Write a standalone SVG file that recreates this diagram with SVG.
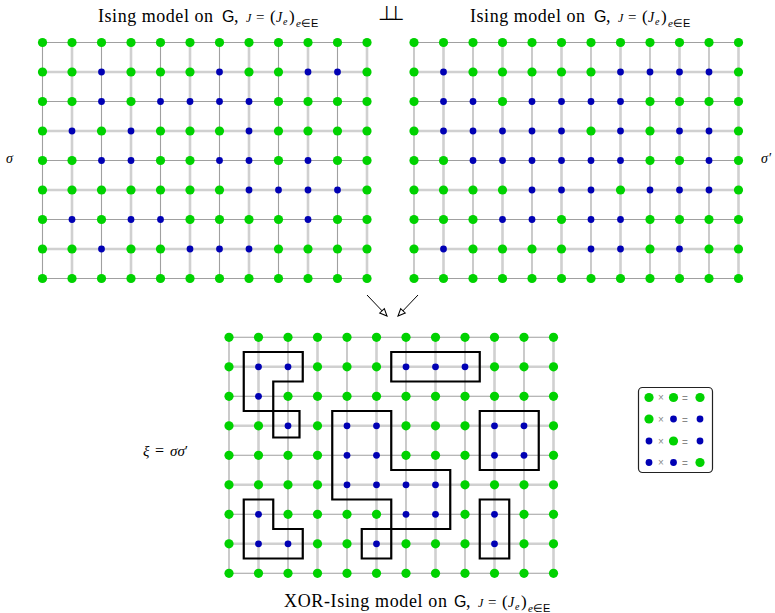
<svg xmlns="http://www.w3.org/2000/svg" xmlns:xlink="http://www.w3.org/1999/xlink" width="775" height="613" viewBox="0 0 775 613">
<style>
.l{stroke:#d0d0d0;stroke-width:2.6;fill:none}
.d{stroke:#a0a0a0;stroke-width:1.1;fill:none}
.c{stroke:#000;stroke-width:2.2;fill:none;stroke-linejoin:miter;stroke-linecap:square}
.s{font-family:"Liberation Serif",serif;fill:#000}
.sf{font-family:"Liberation Sans","DejaVu Sans",sans-serif}
.i{font-style:italic}
.op{font-family:"Liberation Sans",sans-serif;fill:#888;font-size:10px}
.ar{stroke:#000;stroke-width:1;fill:none}
</style>
<defs>
<circle id="G" r="4.6" fill="#00d200"/>
<circle id="B" r="3.4" fill="#0000b4"/>
<g id="lat">
<path class="l" d="M0,29.5H324.5M0,88.5H324.5M0,147.5H324.5M0,206.5H324.5M29.5,0V236M88.5,0V236M147.5,0V236M206.5,0V236M265.5,0V236M324.5,0V236"/>
<path class="d" d="M0,0H324.5M0,59H324.5M0,118H324.5M0,177H324.5M0,236H324.5M0,0V236M59,0V236M118,0V236M177,0V236M236,0V236M295,0V236"/>
</g>
<g id="rg"><use href="#G" x="0"/><use href="#G" x="29.5"/><use href="#G" x="59"/><use href="#G" x="88.5"/><use href="#G" x="118"/><use href="#G" x="147.5"/><use href="#G" x="177"/><use href="#G" x="206.5"/><use href="#G" x="236"/><use href="#G" x="265.5"/><use href="#G" x="295"/><use href="#G" x="324.5"/></g>
<marker id="ah" viewBox="0 0 10 10" refX="9" refY="5" markerWidth="9" markerHeight="9" markerUnits="userSpaceOnUse" orient="auto">
<path d="M1,1.5 L9,5 L1,8.5 Z" fill="#fff" stroke="#000" stroke-width="1.2"/>
</marker>
</defs>
<rect width="775" height="613" fill="#fff"/>

<!-- titles -->
<text class="s" y="22" font-size="18"><tspan x="98" textLength="115">Ising model on</tspan><tspan class="sf" x="222" font-size="16">G</tspan><tspan x="234">,</tspan><tspan class="i" x="246" font-size="12">J</tspan><tspan x="256" font-size="15">=</tspan><tspan x="270" font-size="17">(</tspan><tspan class="i" x="276" font-size="14">J</tspan><tspan class="i" x="283" y="25" font-size="10">e</tspan><tspan x="289" y="22" font-size="17">)</tspan><tspan class="i" x="296" y="27" font-size="11">e</tspan><tspan y="27" font-size="11">∈</tspan><tspan class="sf" y="27" font-size="11">E</tspan></text>
<text class="s" x="378" y="20" font-size="20" letter-spacing="-8">⊥⊥</text>
<text class="s" y="22" font-size="18"><tspan x="470" textLength="115">Ising model on</tspan><tspan class="sf" x="594" font-size="16">G</tspan><tspan x="606">,</tspan><tspan class="i" x="618" font-size="12">J</tspan><tspan x="628" font-size="15">=</tspan><tspan x="642" font-size="17">(</tspan><tspan class="i" x="648" font-size="14">J</tspan><tspan class="i" x="655" y="25" font-size="10">e</tspan><tspan x="661" y="22" font-size="17">)</tspan><tspan class="i" x="668" y="27" font-size="11">e</tspan><tspan y="27" font-size="11">∈</tspan><tspan class="sf" y="27" font-size="11">E</tspan></text>
<text class="s" y="607" font-size="18"><tspan x="284" textLength="163">XOR-Ising model on</tspan><tspan class="sf" x="454" font-size="16">G</tspan><tspan x="466">,</tspan><tspan class="i" x="478" font-size="12">J</tspan><tspan x="488" font-size="15">=</tspan><tspan x="502" font-size="17">(</tspan><tspan class="i" x="508" font-size="14">J</tspan><tspan class="i" x="515" y="610" font-size="10">e</tspan><tspan x="521" y="607" font-size="17">)</tspan><tspan class="i" x="528" y="612" font-size="11">e</tspan><tspan y="612" font-size="11">∈</tspan><tspan class="sf" y="612" font-size="11">E</tspan></text>
<text class="s i" x="6" y="163" font-size="14">σ</text>
<text class="s i" x="761" y="163" font-size="14">σ′</text>
<text class="s" y="456" font-size="15"><tspan class="i" x="143">ξ</tspan><tspan x="155" font-size="16">=</tspan><tspan class="i" x="170">σσ</tspan><tspan>′</tspan></text>

<g id="ising-sigma" transform="translate(42.5,42.5)">
<use href="#lat"/>
<use href="#rg"/>
<g transform="translate(0,29.5)"><use href="#G" x="0"/><use href="#G" x="29.5"/><use href="#B" x="59"/><use href="#G" x="88.5"/><use href="#G" x="118"/><use href="#G" x="147.5"/><use href="#B" x="177"/><use href="#G" x="206.5"/><use href="#G" x="236"/><use href="#B" x="265.5"/><use href="#B" x="295"/><use href="#G" x="324.5"/></g>
<g transform="translate(0,59)"><use href="#G" x="0"/><use href="#G" x="29.5"/><use href="#B" x="59"/><use href="#G" x="88.5"/><use href="#B" x="118"/><use href="#B" x="147.5"/><use href="#B" x="177"/><use href="#B" x="206.5"/><use href="#G" x="236"/><use href="#G" x="265.5"/><use href="#G" x="295"/><use href="#G" x="324.5"/></g>
<g transform="translate(0,88.5)"><use href="#G" x="0"/><use href="#B" x="29.5"/><use href="#G" x="59"/><use href="#B" x="88.5"/><use href="#G" x="118"/><use href="#G" x="147.5"/><use href="#G" x="177"/><use href="#B" x="206.5"/><use href="#G" x="236"/><use href="#G" x="265.5"/><use href="#G" x="295"/><use href="#G" x="324.5"/></g>
<g transform="translate(0,118)"><use href="#G" x="0"/><use href="#G" x="29.5"/><use href="#B" x="59"/><use href="#B" x="88.5"/><use href="#G" x="118"/><use href="#G" x="147.5"/><use href="#B" x="177"/><use href="#B" x="206.5"/><use href="#G" x="236"/><use href="#B" x="265.5"/><use href="#G" x="295"/><use href="#G" x="324.5"/></g>
<g transform="translate(0,147.5)"><use href="#G" x="0"/><use href="#G" x="29.5"/><use href="#G" x="59"/><use href="#G" x="88.5"/><use href="#G" x="118"/><use href="#G" x="147.5"/><use href="#G" x="177"/><use href="#B" x="206.5"/><use href="#B" x="236"/><use href="#B" x="265.5"/><use href="#B" x="295"/><use href="#G" x="324.5"/></g>
<g transform="translate(0,177)"><use href="#G" x="0"/><use href="#B" x="29.5"/><use href="#G" x="59"/><use href="#B" x="88.5"/><use href="#B" x="118"/><use href="#G" x="147.5"/><use href="#G" x="177"/><use href="#G" x="206.5"/><use href="#G" x="236"/><use href="#B" x="265.5"/><use href="#G" x="295"/><use href="#G" x="324.5"/></g>
<g transform="translate(0,206.5)"><use href="#G" x="0"/><use href="#G" x="29.5"/><use href="#B" x="59"/><use href="#G" x="88.5"/><use href="#G" x="118"/><use href="#B" x="147.5"/><use href="#B" x="177"/><use href="#B" x="206.5"/><use href="#G" x="236"/><use href="#G" x="265.5"/><use href="#G" x="295"/><use href="#G" x="324.5"/></g>
<use href="#rg" y="236"/>
</g>

<g id="ising-sigma-prime" transform="translate(414,42.5)">
<use href="#lat"/>
<use href="#rg"/>
<g transform="translate(0,29.5)"><use href="#G" x="0"/><use href="#B" x="29.5"/><use href="#G" x="59"/><use href="#G" x="88.5"/><use href="#G" x="118"/><use href="#G" x="147.5"/><use href="#G" x="177"/><use href="#B" x="206.5"/><use href="#B" x="236"/><use href="#B" x="265.5"/><use href="#B" x="295"/><use href="#G" x="324.5"/></g>
<g transform="translate(0,59)"><use href="#G" x="0"/><use href="#B" x="29.5"/><use href="#B" x="59"/><use href="#G" x="88.5"/><use href="#B" x="118"/><use href="#B" x="147.5"/><use href="#B" x="177"/><use href="#B" x="206.5"/><use href="#G" x="236"/><use href="#G" x="265.5"/><use href="#G" x="295"/><use href="#G" x="324.5"/></g>
<g transform="translate(0,88.5)"><use href="#G" x="0"/><use href="#B" x="29.5"/><use href="#B" x="59"/><use href="#B" x="88.5"/><use href="#B" x="118"/><use href="#B" x="147.5"/><use href="#G" x="177"/><use href="#B" x="206.5"/><use href="#G" x="236"/><use href="#B" x="265.5"/><use href="#B" x="295"/><use href="#G" x="324.5"/></g>
<g transform="translate(0,118)"><use href="#G" x="0"/><use href="#G" x="29.5"/><use href="#B" x="59"/><use href="#B" x="88.5"/><use href="#B" x="118"/><use href="#B" x="147.5"/><use href="#B" x="177"/><use href="#B" x="206.5"/><use href="#G" x="236"/><use href="#G" x="265.5"/><use href="#B" x="295"/><use href="#G" x="324.5"/></g>
<g transform="translate(0,147.5)"><use href="#G" x="0"/><use href="#G" x="29.5"/><use href="#G" x="59"/><use href="#G" x="88.5"/><use href="#B" x="118"/><use href="#B" x="147.5"/><use href="#B" x="177"/><use href="#G" x="206.5"/><use href="#B" x="236"/><use href="#B" x="265.5"/><use href="#B" x="295"/><use href="#G" x="324.5"/></g>
<g transform="translate(0,177)"><use href="#G" x="0"/><use href="#G" x="29.5"/><use href="#G" x="59"/><use href="#B" x="88.5"/><use href="#B" x="118"/><use href="#G" x="147.5"/><use href="#B" x="177"/><use href="#B" x="206.5"/><use href="#G" x="236"/><use href="#G" x="265.5"/><use href="#G" x="295"/><use href="#G" x="324.5"/></g>
<g transform="translate(0,206.5)"><use href="#G" x="0"/><use href="#B" x="29.5"/><use href="#G" x="59"/><use href="#G" x="88.5"/><use href="#G" x="118"/><use href="#G" x="147.5"/><use href="#B" x="177"/><use href="#B" x="206.5"/><use href="#G" x="236"/><use href="#B" x="265.5"/><use href="#G" x="295"/><use href="#G" x="324.5"/></g>
<use href="#rg" y="236"/>
</g>

<g id="xor-ising">
<g transform="translate(229,337.3)">
<use href="#lat"/>
<use href="#rg"/>
<g transform="translate(0,29.5)"><use href="#G" x="0"/><use href="#B" x="29.5"/><use href="#B" x="59"/><use href="#G" x="88.5"/><use href="#G" x="118"/><use href="#G" x="147.5"/><use href="#B" x="177"/><use href="#B" x="206.5"/><use href="#B" x="236"/><use href="#G" x="265.5"/><use href="#G" x="295"/><use href="#G" x="324.5"/></g>
<g transform="translate(0,59)"><use href="#G" x="0"/><use href="#B" x="29.5"/><use href="#G" x="59"/><use href="#G" x="88.5"/><use href="#G" x="118"/><use href="#G" x="147.5"/><use href="#G" x="177"/><use href="#G" x="206.5"/><use href="#G" x="236"/><use href="#G" x="265.5"/><use href="#G" x="295"/><use href="#G" x="324.5"/></g>
<g transform="translate(0,88.5)"><use href="#G" x="0"/><use href="#G" x="29.5"/><use href="#B" x="59"/><use href="#G" x="88.5"/><use href="#B" x="118"/><use href="#B" x="147.5"/><use href="#G" x="177"/><use href="#G" x="206.5"/><use href="#G" x="236"/><use href="#B" x="265.5"/><use href="#B" x="295"/><use href="#G" x="324.5"/></g>
<g transform="translate(0,118)"><use href="#G" x="0"/><use href="#G" x="29.5"/><use href="#G" x="59"/><use href="#G" x="88.5"/><use href="#B" x="118"/><use href="#B" x="147.5"/><use href="#G" x="177"/><use href="#G" x="206.5"/><use href="#G" x="236"/><use href="#B" x="265.5"/><use href="#B" x="295"/><use href="#G" x="324.5"/></g>
<g transform="translate(0,147.5)"><use href="#G" x="0"/><use href="#G" x="29.5"/><use href="#G" x="59"/><use href="#G" x="88.5"/><use href="#B" x="118"/><use href="#B" x="147.5"/><use href="#B" x="177"/><use href="#B" x="206.5"/><use href="#G" x="236"/><use href="#G" x="265.5"/><use href="#G" x="295"/><use href="#G" x="324.5"/></g>
<g transform="translate(0,177)"><use href="#G" x="0"/><use href="#B" x="29.5"/><use href="#G" x="59"/><use href="#G" x="88.5"/><use href="#G" x="118"/><use href="#G" x="147.5"/><use href="#B" x="177"/><use href="#B" x="206.5"/><use href="#G" x="236"/><use href="#B" x="265.5"/><use href="#G" x="295"/><use href="#G" x="324.5"/></g>
<g transform="translate(0,206.5)"><use href="#G" x="0"/><use href="#B" x="29.5"/><use href="#B" x="59"/><use href="#G" x="88.5"/><use href="#G" x="118"/><use href="#B" x="147.5"/><use href="#G" x="177"/><use href="#G" x="206.5"/><use href="#G" x="236"/><use href="#B" x="265.5"/><use href="#G" x="295"/><use href="#G" x="324.5"/></g>
<use href="#rg" y="236"/>
</g>
<path class="c" d="M243.75,352H302.75V381.5H273.25V437.5H299.5V411H243.75Z"/>
<path class="c" d="M391.25,352H479.75V381.5H391.25Z"/>
<path class="c" d="M332.25,411H391.25V470H450.25V529H361.75V558.5H391.25V499.5H332.25Z"/>
<path class="c" d="M479.75,411H538.75V470H479.75Z"/>
<path class="c" d="M243.75,499.5H273.25V529H302.75V558.5H243.75Z"/>
<path class="c" d="M479.75,499.5H509.25V558.5H479.75Z"/>
</g>

<g id="legend">
<rect x="638.5" y="387.5" width="74" height="85" rx="4" fill="#fff" stroke="#222" stroke-width="1.2"/>
<use href="#G" x="649" y="397.5"/><text class="op" x="658" y="401">×</text><use href="#G" x="673.5" y="397.5"/><text class="op" x="682" y="402">=</text><use href="#G" x="700" y="397.5"/>
<use href="#G" x="649" y="419"/><text class="op" x="658" y="422.5">×</text><use href="#B" x="673.5" y="419"/><text class="op" x="682" y="423.5">=</text><use href="#B" x="700" y="419"/>
<use href="#B" x="649" y="441"/><text class="op" x="658" y="444.5">×</text><use href="#G" x="673.5" y="441"/><text class="op" x="682" y="445.5">=</text><use href="#B" x="700" y="441"/>
<use href="#B" x="649" y="462.5"/><text class="op" x="658" y="466">×</text><use href="#B" x="673.5" y="462.5"/><text class="op" x="682" y="467">=</text><use href="#G" x="700" y="462.5"/>
</g>

<g id="connectors">
<line class="ar" x1="367" y1="295" x2="387" y2="316" marker-end="url(#ah)"/>
<line class="ar" x1="418" y1="295" x2="398" y2="316" marker-end="url(#ah)"/>
</g>
</svg>
